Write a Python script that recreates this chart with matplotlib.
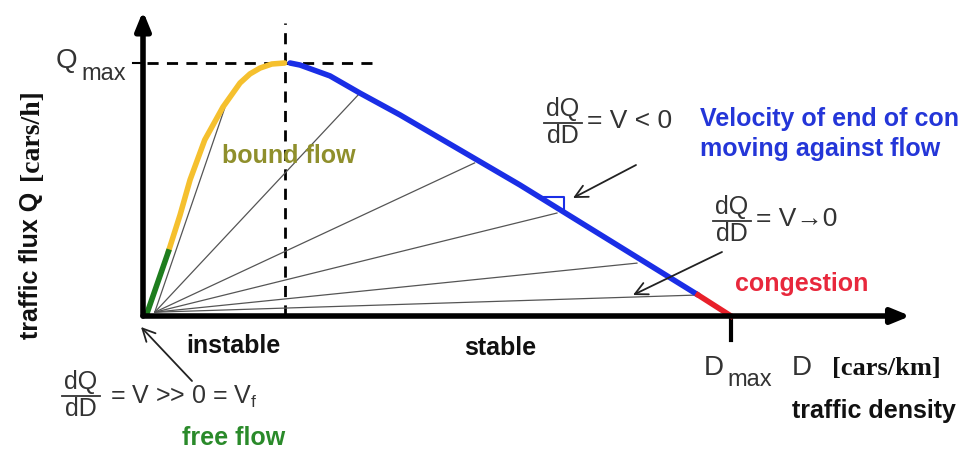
import numpy as np
import matplotlib
matplotlib.use('Agg')
import matplotlib.pyplot as plt

# fundamental diagram, D and Q normalised to Dmax = 1, Qmax = 1
free_D = [0.007, 0.043]
free_Q = [0.012, 0.253]
bound_D = [0.043, 0.063, 0.080, 0.105, 0.136, 0.165, 0.182, 0.199, 0.219, 0.241]
bound_Q = [0.253, 0.399, 0.538, 0.696, 0.826, 0.921, 0.957, 0.980, 0.996, 1.000]
stable_D = [0.250, 0.267, 0.318, 0.369, 0.437, 0.641, 0.944]
stable_Q = [1.000, 0.992, 0.949, 0.881, 0.795, 0.518, 0.083]
cong_D = [0.944, 1.000]
cong_Q = [0.083, 0.000]
# end points of the velocity rays (from the origin)
ray_D = [0.139, 0.366, 0.564, 0.704, 0.840, 0.944]
ray_Q = [0.822, 0.874, 0.605, 0.407, 0.209, 0.083]
D_crit = 0.241

W, H = 960, 453
fig = plt.figure(figsize=(W / 100, H / 100), dpi=100)
ax = fig.add_axes([0, 0, 1, 1])
# origin at pixel (143, 316), Dmax at x=731, Qmax at y=63
ax.set_xlim(-143 / 588, (W - 143) / 588)
ax.set_ylim(-(H - 316) / 253, 316 / 253)
ax.axis('off')


def P(x, y):
    # pixel position -> figure fraction (for labels)
    return x / W, 1 - y / H


def d(x, y):
    # pixel position -> data coords (for annotation arrows)
    return (x - 143) / 588, (316 - y) / 253


# axes with arrows
head = '-|>,head_length=1.1,head_width=0.45'
ax.annotate('', xy=(1.305, 0), xytext=(0, 0),
            arrowprops=dict(arrowstyle=head, lw=4, color='black', shrinkA=0, shrinkB=0))
ax.annotate('', xy=(0, 1.205), xytext=(0, 0),
            arrowprops=dict(arrowstyle=head, lw=4, color='black', shrinkA=0, shrinkB=0))
ax.plot([1, 1], [0, -0.095], color='black', lw=3)
ax.plot([-0.017, 0], [1, 1], color='black', lw=1.5)

# dashed guides
ax.plot([D_crit, D_crit], [0, 1.16], color='black', lw=2, ls=(0, (4, 3)))
ax.plot([0.007, 0.391], [1, 1], color='black', lw=2, ls=(0, (4, 3)))

# rays
for dd, q in zip(ray_D, ray_Q):
    ax.plot([0.02, dd], [0.015, q], color='#555555', lw=0.9)

# curve
ax.plot(bound_D, bound_Q, color='#f5c02e', lw=4, solid_capstyle='round')
ax.plot(free_D, free_Q, color='#1e7d1e', lw=4)
ax.plot(stable_D, stable_Q, color='#1a2ee6', lw=4, solid_capstyle='round')
ax.plot(cong_D, cong_Q, color='#e8202a', lw=4)

# little slope triangle
t0, t1 = d(537, 197), d(564, 212)
ax.plot([t0[0], t1[0], t1[0]], [t0[1], t0[1], t1[1]], color='#1a2ee6', lw=1.5)

# arrows
arr = dict(arrowstyle='->,head_length=0.9,head_width=0.45', lw=1.3, color='#222222',
           shrinkA=0, shrinkB=0)
ax.annotate('', xy=d(573, 198), xytext=d(636, 165), arrowprops=arr)
ax.annotate('', xy=d(633, 295), xytext=d(722, 252), arrowprops=arr)
ax.annotate('', xy=d(141, 327), xytext=d(192, 381), arrowprops=arr)

grey = '#333333'
sans = 'Liberation Sans'
serif = 'Liberation Serif'
bsize = 18


def label(x, y, s, size, family=sans, color=grey, **kw):
    fig.text(*P(x, y), s, fontsize=size, family=family, color=color,
             transform=fig.transFigure, **kw)


def frac(x, y, size=18):
    # dQ over dD, x = centre, y = fraction bar
    label(x, y - 2, 'dQ', size, ha='center', va='bottom')
    label(x, y + 1, 'dD', size, ha='center', va='top')
    fig.add_artist(plt.Line2D([(x - 19) / W, (x + 19) / W], [1 - y / H, 1 - y / H],
                              color=grey, lw=1.3, transform=fig.transFigure))


# Qmax
label(56, 68, 'Q', 20, va='baseline')
label(81, 80, 'max', 17, va='baseline')
# Dmax, D
label(704, 375, 'D', 20, va='baseline')
label(727, 386, 'max', 17, va='baseline')
label(792, 375, 'D', 20, va='baseline')
label(832, 375, '[cars/km]', 19, family=serif, color='#111111', weight='bold', va='baseline')
label(792, 411, 'traffic density', bsize, color='#111111', weight='bold', va='center')

# y label
label(31, 265, 'traffic flux Q', bsize, color='#111111', weight='bold',
      rotation=90, ha='center', va='center')
label(31, 135, '[cars/h]', 20, family=serif, color='#111111', weight='bold',
      rotation=90, ha='center', va='center')

# region labels
label(233, 346, 'instable', bsize, color='#111111', weight='bold',
      ha='center', va='center')
label(500, 348, 'stable', bsize, color='#111111', weight='bold',
      ha='center', va='center')
label(289, 156, 'bound flow', bsize, color='#8f8f2c', weight='bold',
      ha='center', va='center')
label(802, 284, 'congestion', bsize, color='#e8283c', weight='bold',
      ha='center', va='center')
label(234, 438, 'free flow', bsize, color='#2a8a2a', weight='bold',
      ha='center', va='center')
label(700, 119, 'Velocity of end of congestion', bsize, color='#2436d8',
      weight='bold', va='center')
label(700, 149, 'moving against flow', bsize, color='#2436d8',
      weight='bold', va='center')

# derivative labels
frac(563, 123)
label(587, 121, '= V < 0', 19, va='center')
frac(732, 221)
label(756, 219, '= V\u21920', 19, family=[sans, 'DejaVu Sans'], va='center')
frac(81, 396)
label(110, 397, r'= V >> 0 = V$_\mathregular{f}$', 18, va='center')

fig.savefig('out.png', dpi=100)
